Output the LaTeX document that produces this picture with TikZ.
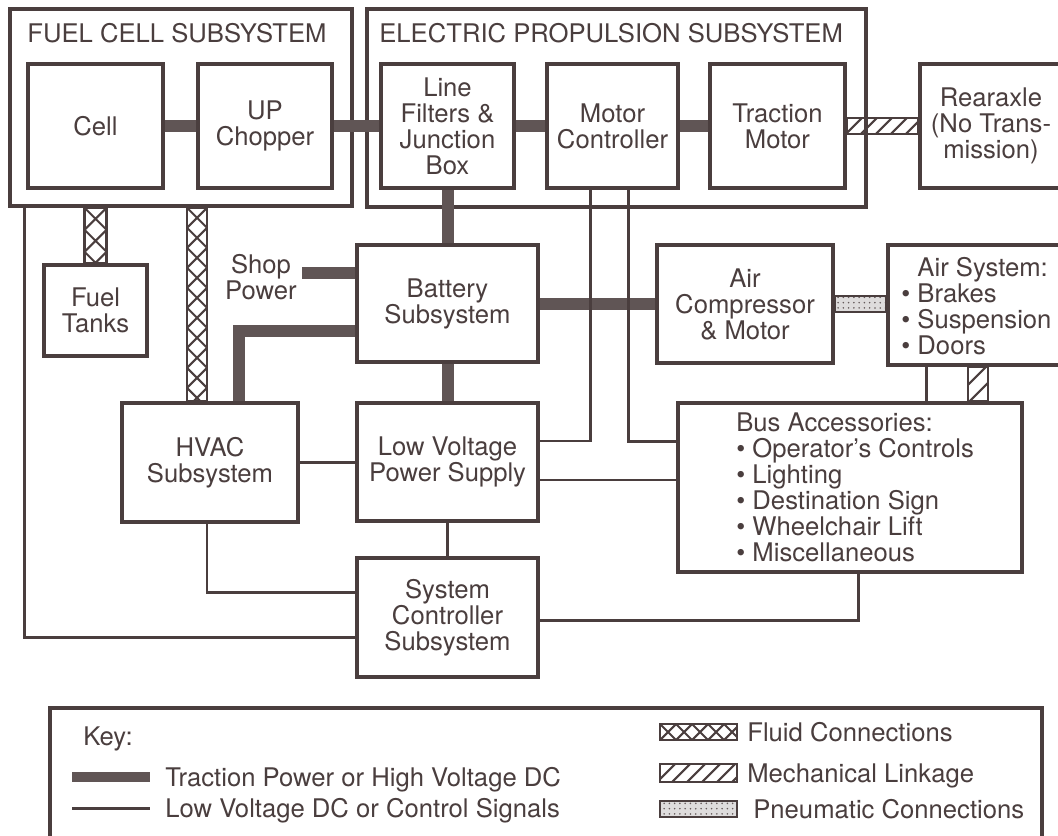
\documentclass[tikz,border=0pt]{standalone}
\usepackage{fontspec}
\setmainfont{TeX Gyre Heros}
\usepackage{tikz}
\usetikzlibrary{positioning, calc, patterns}
\definecolor{lineC}{HTML}{4A3E3E}

\tikzset{
  blk/.style 2 args={draw, line width=2pt, minimum width=#1*0.02cm, minimum height=#2*0.02cm, align=center, inner sep=0pt},
  lbl/.style={inner sep=0pt},
  hvline/.style={line width=0.24cm, draw=lineC!88},
  lvline/.style={line width=1.7pt},
  fine/.style={line width=1.2pt},
}

\newcommand\fluidv[3]{%
  \begin{scope}
    \clip ($(#1)+(-#3,0)$) rectangle ($(#2)+(#3,0)$);
    \foreach \k in {0,...,12}
      \draw[fine] ($(#1)+(-#3,2*#3*\k)$) -- ++(2*#3,2*#3)
                  ($(#1)+(#3,2*#3*\k)$) -- ++(-2*#3,2*#3);
  \end{scope}
  \draw[fine] ($(#1)+(-#3,0)$) rectangle ($(#2)+(#3,0)$);
}
\newcommand\fluidh[3]{%
  \begin{scope}
    \clip ($(#1)+(0,-#3)$) rectangle ($(#2)+(0,#3)$);
    \foreach \k in {0,...,8}
      \draw[fine] ($(#1)+(2*#3*\k,-#3)$) -- ++(2*#3,2*#3)
                  ($(#1)+(2*#3*\k,#3)$) -- ++(2*#3,-2*#3);
  \end{scope}
  \draw[fine] ($(#1)+(0,-#3)$) rectangle ($(#2)+(0,#3)$);
}
\newcommand\mechh[3]{%
  \begin{scope}
    \clip ($(#1)+(0,-#3)$) rectangle ($(#2)+(0,#3)$);
    \foreach \k in {0,...,10}
      \draw[fine] ($(#1)+(15*\k-2*#3,#3)$) -- ++(2*#3,-2*#3);
  \end{scope}
  \draw[fine] ($(#1)+(0,-#3)$) rectangle ($(#2)+(0,#3)$);
}
\newcommand\mechv[3]{%
  \begin{scope}
    \clip ($(#1)+(-#3,0)$) rectangle ($(#2)+(#3,0)$);
    \foreach \k in {0,...,6}
      \draw[fine] ($(#1)+(-#3,18*\k)$) -- ++(2*#3,-2*#3);
  \end{scope}
  \draw[fine] ($(#1)+(-#3,0)$) rectangle ($(#2)+(#3,0)$);
}
\newcommand\pneuh[3]{%
  \fill[lineC!18] ($(#1)+(0,-#3)$) rectangle ($(#2)+(0,#3)$);
  \fill[pattern=dots, pattern color=lineC!85] ($(#1)+(0,-#3)$) rectangle ($(#2)+(0,#3)$);
  \draw[fine] ($(#1)+(0,-#3)$) rectangle ($(#2)+(0,#3)$);
}

\begin{document}
\begin{tikzpicture}[x=0.02cm, y=-0.02cm, color=lineC, font=\fontsize{14.6}{14.8}\selectfont]
  \useasboundingbox (0,0) rectangle (1058,835);
  \clip (0,0) rectangle (1058,835);
  \fill[white] (0,0) rectangle (1058,835);

  % subsystem frames
  \node[blk={342}{197}] (fcs) at (181,107.5) {};
  \node[lbl, anchor=base west] (fcst) at (27,42) {FUEL CELL SUBSYSTEM};
  \node[blk={499}{198}] (eps) at (616.5,108) {};
  \node[lbl, anchor=base west] (epst) at (379,42) {ELECTRIC PROPULSION SUBSYSTEM};

  % blocks
  \node[blk={135}{124}] (cell) at (95.5,126) {Cell};
  \node[blk={134}{124}] (chop) at (265,126) {UP\\Chopper};
  \node[blk={133}{124}] (lfj) at (447.5,126) {Line\\Filters \&\\Junction\\Box};
  \node[blk={131}{124}] (mctl) at (612.5,126) {Motor\\Controller};
  \node[blk={135}{124}] (tmot) at (777.5,126) {Traction\\Motor};
  \node[blk={142}{124}] (axle) at (991,126) {Rearaxle\\(No Trans-\\mission)};
  \node[blk={103}{91}] (tanks) at (95.5,310.5) {Fuel\\Tanks};
  \node[lbl, align=center] (shop) at (261,277) {Shop\\Power};
  \node[blk={181}{117}] (batt) at (447.5,303.5) {Battery\\Subsystem};
  \node[blk={176}{118}] (airc) at (745,304) {Air\\Compressor\\\& Motor};
  \node[blk={174}{120}] (airs) at (975,305) {};
  \node[lbl, anchor=west, align=left] (airst) at (901,306)
    {\phantom{\textbullet\ }Air System:\\\textbullet\ Brakes\\\textbullet\ Suspension\\\textbullet\ Doors};
  \node[blk={176}{119}] (hvac) at (210,462.5) {HVAC\\Subsystem};
  \node[blk={181}{118}] (lvps) at (447.5,462) {Low Voltage\\Power Supply};
  \node[blk={344}{169}] (busa) at (850,487.5) {};
  \node[lbl, anchor=west, align=left] (busat) at (736,487.5)
    {Bus Accessories:\\\textbullet\ Operator's Controls\\\textbullet\ Lighting\\\textbullet\ Destination Sign\\\textbullet\ Wheelchair Lift\\\textbullet\ Miscellaneous};
  \node[blk={181}{119}] (sysc) at (447.5,617.5) {System\\Controller\\Subsystem};

  % traction power
  \draw[hvline] (cell) -- (chop);
  \draw[hvline] (chop) -- (lfj);
  \draw[hvline] (lfj) -- (mctl);
  \draw[hvline] (mctl) -- (tmot);
  \draw[hvline] (lfj) -- (batt);
  \coordinate (shopend) at (302,273);
  \draw[hvline] (shopend) -- (shopend -| batt.west);
  \draw[hvline] ($(batt.west)+(0,27)$) -| ($(hvac.north)+(29,0)$);
  \draw[hvline] (batt) -- (lvps);
  \draw[hvline] (batt.east) -- (batt.east -| airc.west);

  % low voltage / control
  \draw[lvline] ($(fcs.south west)+(16,0)$) |- ($(sysc.west)+(0,20)$);
  \draw[lvline] (hvac.east) -- (hvac.east -| lvps.west);
  \draw[lvline] ($(hvac.south)+(-3,0)$) |- ($(sysc.west)+(0,-25)$);
  \draw[lvline] (lvps) -- (sysc);
  \draw[lvline] ($(mctl.south)+(-22,0)$) |- ($(lvps.east)+(0,-21)$);
  \draw[lvline] ($(mctl.south)+(16,0)$) |- ($(busa.west)+(0,-46)$);
  \draw[lvline] ($(lvps.east)+(0,18)$) -- ($(busa.west)+(0,-7.5)$);
  \draw[lvline] ($(busa.south)+(8,0)$) |- ($(sysc.east)+(0,2.5)$);
  \coordinate (airl) at ($(airs.south)+(-49,0)$);
  \draw[lvline] (airl) -- (airl |- busa.north);

  % fluid, mechanical, pneumatic
  \fluidv{tanks.north |- fcs.south}{tanks.north}{11}
  \coordinate (fl2) at ($(hvac.north)+(-13,0)$);
  \fluidv{fl2 |- fcs.south}{fl2}{10}
  \mechh{tmot.east}{tmot.east -| axle.west}{8}
  \coordinate (airm) at ($(airs.south)+(3,0)$);
  \mechv{airm}{airm |- busa.north}{10}
  \pneuh{airc.east}{airc.east -| airs.west}{8}

  % key
  \node[blk={992}{142}] (key) at (546,779) {};
  \node[lbl, anchor=base west] (keyt) at (83,745) {Key:};
  \coordinate (kta) at (72,777);
  \coordinate (ktb) at (150,777);
  \draw[hvline, line width=0.2cm] (kta) -- (ktb);
  \node[lbl, anchor=base west] (ktt) at (165,786) {Traction Power or High Voltage DC};
  \coordinate (kla) at (72,808);
  \coordinate (klb) at (150,808);
  \draw[lvline] (kla) -- (klb);
  \node[lbl, anchor=base west] (klt) at (165,817) {Low Voltage DC or Control Signals};
  \coordinate (kfa) at (660,732);
  \coordinate (kfb) at (737,732);
  \fluidh{kfa}{kfb}{8}
  \node[lbl, anchor=base west] (kft) at (747,741) {Fluid Connections};
  \coordinate (kma) at (660,773);
  \coordinate (kmb) at (737,773);
  \mechh{kma}{kmb}{9}
  \node[lbl, anchor=base west] (kmt) at (747,782) {Mechanical Linkage};
  \coordinate (kpa) at (660,809);
  \coordinate (kpb) at (737,809);
  \pneuh{kpa}{kpb}{8}
  \node[lbl, anchor=base west] (kpt) at (753,818) {Pneumatic Connections};
\end{tikzpicture}
\end{document}
